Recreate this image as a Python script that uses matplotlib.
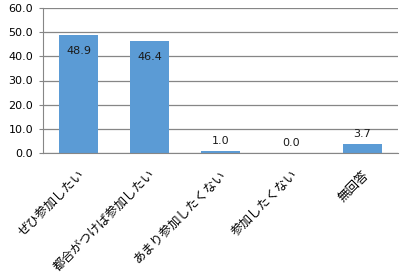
import matplotlib
matplotlib.use("Agg")
from matplotlib import pyplot as plt

plt.rcParams['font.family'] = ['Noto Sans CJK JP', 'DejaVu Sans']

categories = ['ぜひ参加したい', '都合がつけば参加したい', 'あまり参加したくない', '参加したくない', '無回答']
values = [48.9, 46.4, 1.0, 0.0, 3.7]
yticks = [0, 10, 20, 30, 40, 50, 60]

fig = plt.figure(figsize=(4.15, 2.78), dpi=100)
ax = fig.add_axes([43 / 415, 1 - 153 / 278, 355 / 415, 145 / 278])

x = list(range(len(categories)))
ax.bar(x, values, width=0.56, color='#5B9BD5', zorder=2)

for xi, v in zip(x, values):
    if v > 10:
        ax.text(xi, v - 4.5, f'{v:.1f}', ha='center', va='top', fontsize=8,
                family='DejaVu Sans', color='#1a1a1a')
    else:
        ax.text(xi, v + 2.0, f'{v:.1f}', ha='center', va='bottom', fontsize=8,
                family='DejaVu Sans', color='#1a1a1a')

ax.set_xlim(-0.5, len(categories) - 0.5)
ax.set_ylim(0, 60)
ax.set_yticks(yticks)
ax.set_yticklabels([f'{t:.1f}' for t in yticks], fontsize=8, family='DejaVu Sans')
ax.yaxis.grid(True, color='#868686', linewidth=0.9, zorder=0)
ax.tick_params(axis='y', length=3, color='#868686', pad=4)
ax.tick_params(axis='x', length=0, pad=11)
ax.set_xticks(x)
ax.set_xticklabels(categories, rotation=45, ha='right', rotation_mode='anchor', fontsize=9)

for s in ['top', 'right']:
    ax.spines[s].set_visible(False)
ax.spines['left'].set_color('#868686')
ax.spines['bottom'].set_color('#868686')

fig.savefig('out.png', dpi=100)
